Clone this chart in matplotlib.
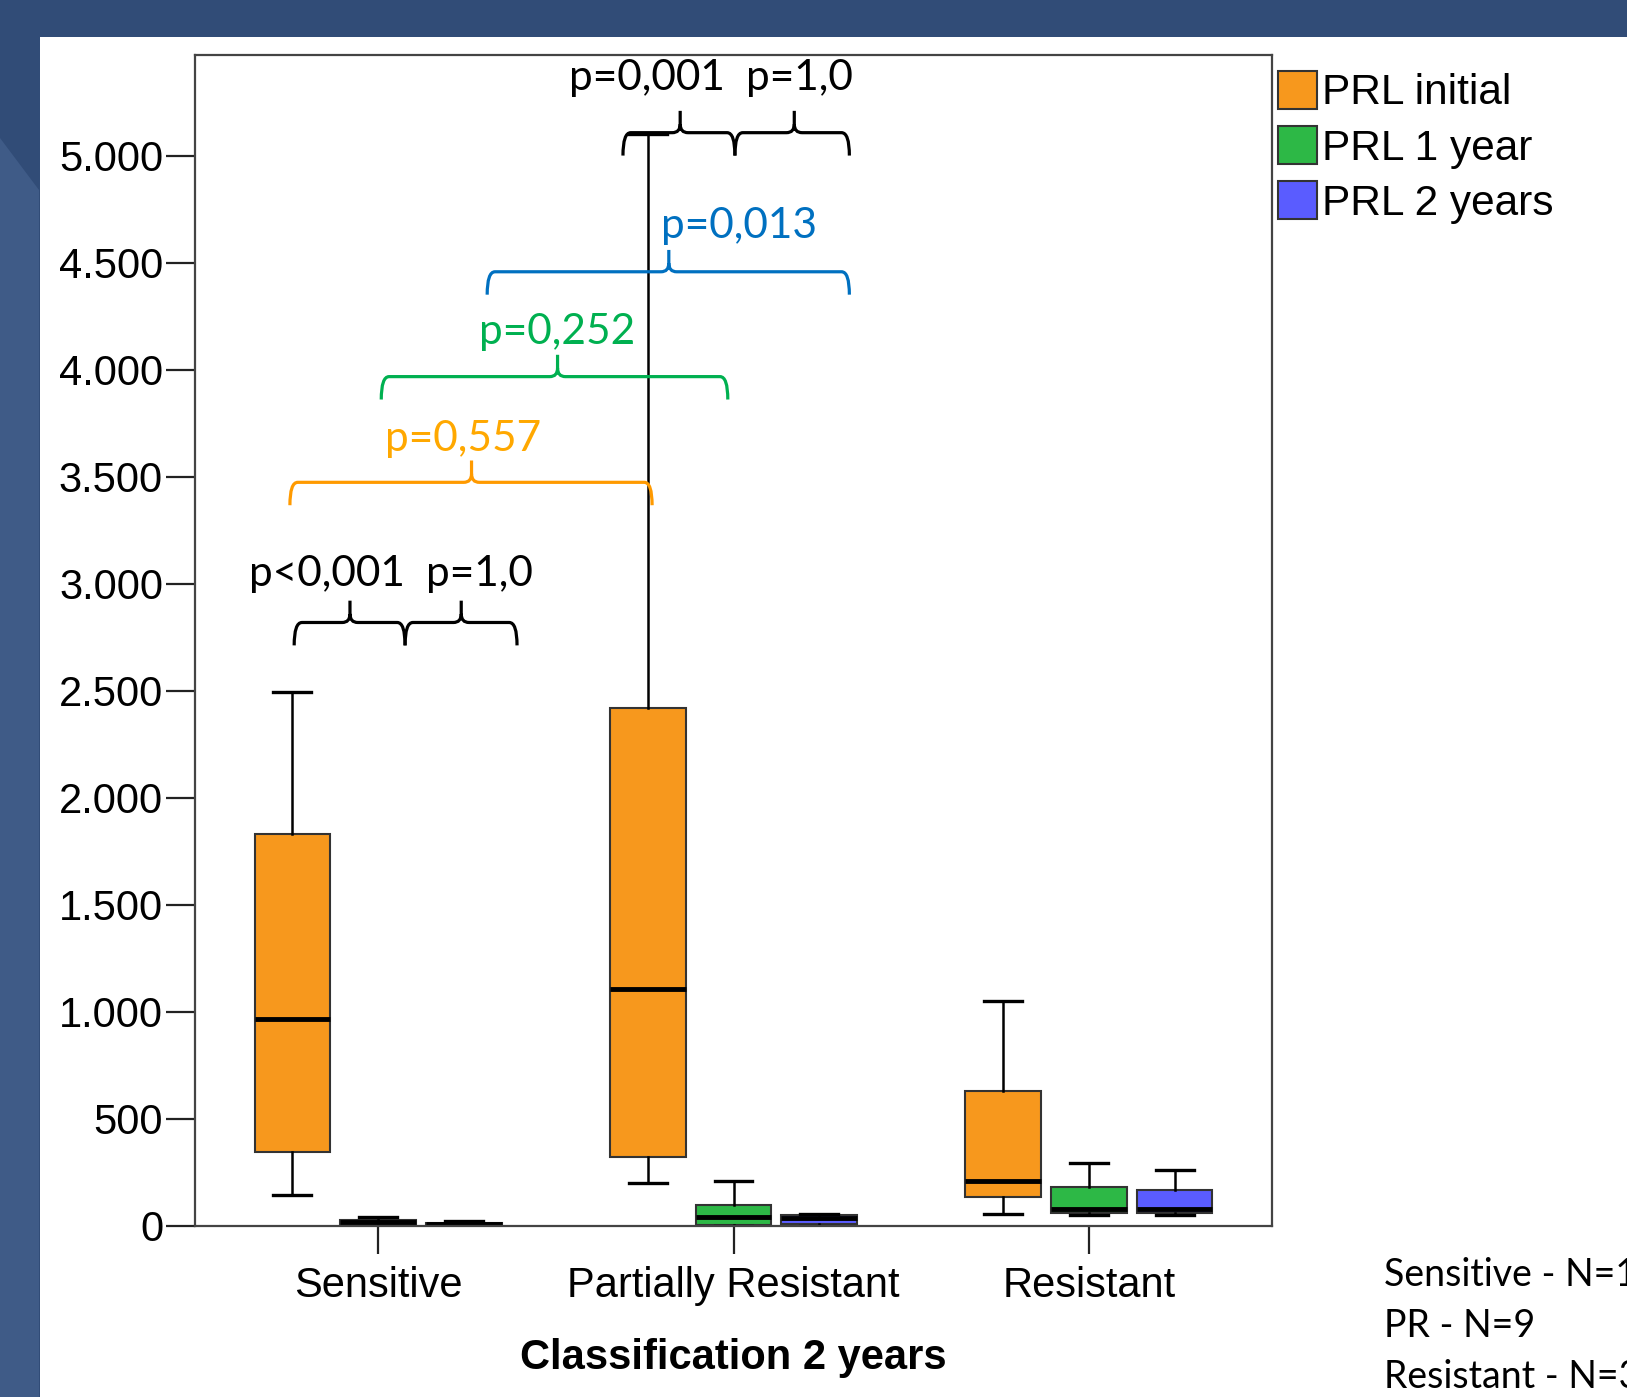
import matplotlib
matplotlib.use("Agg")
import matplotlib.pyplot as plt
from matplotlib.patches import Polygon, Rectangle, Patch, PathPatch
from matplotlib.path import Path
from matplotlib.ticker import FuncFormatter

plt.rcParams['font.family'] = ['Liberation Sans', 'DejaVu Sans']

# data (PRL values)
groups = ["Sensitive", "Partially Resistant", "Resistant"]
series = ["PRL initial", "PRL 1 year", "PRL 2 years"]
colors = ["#f7981d", "#2db846", "#5a5cff"]

# whislo, q1, median, q3, whishi per group
prl_initial = [[141, 344, 965, 1828, 2493],
               [199, 320, 1106, 2420, 5100],
               [54, 135, 208, 630, 1047]]
prl_1year = [[0, 5, 15, 25, 40],
             [0, 3, 38, 94, 208],
             [48, 57, 76, 181, 290]]
prl_2years = [[0, 3, 8, 14, 20],
              [0, 7, 36, 48, 55],
              [48, 57, 76, 166, 258]]

# brackets: x1, x2, xpeak, y, colour
brackets = [
    (-0.236, 0.076, -0.079, 2818, "black"),
    (0.076, 0.391, 0.234, 2818, "black"),
    (-0.248, 0.771, 0.263, 3473, "#ff9a00"),
    (0.009, 0.984, 0.505, 3967, "#00b050"),
    (0.307, 1.326, 0.818, 4457, "#0070c0"),
    (0.689, 1.004, 0.850, 5107, "black"),
    (1.004, 1.326, 1.171, 5107, "black"),
]
p_labels = [
    ("p<0,001", -0.143, 3046, "black"),
    ("p=1,0", 0.286, 3046, "black"),
    ("p=0,557", 0.239, 3676, "#ffa800"),
    ("p=0,252", 0.505, 4176, "#00b050"),
    ("p=0,013", 1.016, 4671, "#0070c0"),
    ("p=0,001", 0.756, 5364, "black"),
    ("p=1,0", 1.185, 5364, "black"),
]
n_labels = ["Sensitive - N=15", "PR - N=9", "Resistant - N=3"]

W, H = 1627, 1397
fig = plt.figure(figsize=(W / 100, H / 100), dpi=100, facecolor="#314c77")

# slide background
fig.patches.append(Polygon([(0, 1 - 138 / H), (39 / W, 1 - 190 / H), (39 / W, 0), (0, 0)],
                           closed=True, transform=fig.transFigure, facecolor="#3f5b87",
                           edgecolor="none", zorder=-2))
fig.patches.append(Rectangle((39.5 / W, 0), 1, 1 - 37 / H, transform=fig.transFigure,
                             facecolor="white", edgecolor="none", zorder=-1))

ax = fig.add_axes([195 / W, 1 - 1225.5 / H, (1272 - 195) / W, (1225.5 - 55) / H])
ax.set_facecolor("white")

offsets = [-0.241, 0.0, 0.241]
width = 0.213
for k, (vals, c) in enumerate(zip([prl_initial, prl_1year, prl_2years], colors)):
    stats = [dict(whislo=v[0], q1=v[1], med=v[2], q3=v[3], whishi=v[4], fliers=[]) for v in vals]
    pos = [g + offsets[k] for g in range(len(groups))]
    ax.bxp(stats, positions=pos, widths=width, capwidths=width / 2, showfliers=False,
           patch_artist=True, manage_ticks=False,
           boxprops=dict(facecolor=c, edgecolor="#333333", linewidth=1.5),
           medianprops=dict(color="black", linewidth=3.5),
           whiskerprops=dict(color="black", linewidth=1.8),
           capprops=dict(color="black", linewidth=2.4))


def brace(x1, x2, xm, y, color):
    rx, ry = 0.022, 40
    drop, peak = 107, 102
    verts = [(x1, y - drop), (x1, y), (x1 + rx, y),
             (xm - rx, y), (xm, y), (xm, y + ry),
             (xm, y + peak),
             (xm, y + ry), (xm, y), (xm + rx, y),
             (x2 - rx, y), (x2, y), (x2, y - drop)]
    codes = [Path.MOVETO, Path.CURVE3, Path.CURVE3,
             Path.LINETO, Path.CURVE3, Path.CURVE3,
             Path.LINETO,
             Path.MOVETO, Path.CURVE3, Path.CURVE3,
             Path.LINETO, Path.CURVE3, Path.CURVE3]
    ax.add_patch(PathPatch(Path(verts, codes), facecolor="none", edgecolor=color,
                           linewidth=2.3, zorder=5, clip_on=False))


for x1, x2, xm, y, c in brackets:
    brace(x1, x2, xm, y, c)
for txt, x, y, c in p_labels:
    ax.text(x, y, txt, color=c, fontsize=30.5, family=['Lato', 'DejaVu Sans'],
            ha="center", va="center", zorder=6)

ax.set_xlim(-0.515, 2.515)
ax.set_ylim(0, 5470)
ax.set_xticks(range(len(groups)))
ax.set_xticklabels(groups, fontsize=30)
ax.set_yticks(range(0, 5001, 500))
ax.yaxis.set_major_formatter(FuncFormatter(lambda v, p: f"{v:,.0f}".replace(",", ".")))
ax.tick_params(axis="y", labelsize=30, length=21, width=1.6, pad=2, color="#222222")
ax.tick_params(axis="x", length=20, width=1.6, pad=9, color="#222222")
ax.set_xlabel("Classification 2 years", fontsize=30, fontweight="bold", labelpad=23)
for s in ax.spines.values():
    s.set_color("#444444")
    s.set_linewidth(1.6)

handles = [Patch(facecolor=c, edgecolor="#333333", linewidth=1.5) for c in colors]
ax.legend(handles, series, loc="upper left", bbox_to_anchor=(1.002, 0.99), frameon=False,
          fontsize=30.5, handlelength=0.92, handleheight=1.0, handletextpad=0.1,
          labelspacing=0.3, borderpad=0, borderaxespad=0.1)

for i, t in enumerate(n_labels):
    fig.text(1384 / W, 1 - (1275 + 51 * i) / H, t, fontsize=27, family=['Lato', 'DejaVu Sans'],
             ha="left", va="center", color="black")

plt.savefig("out.png", dpi=100, facecolor=fig.get_facecolor())
